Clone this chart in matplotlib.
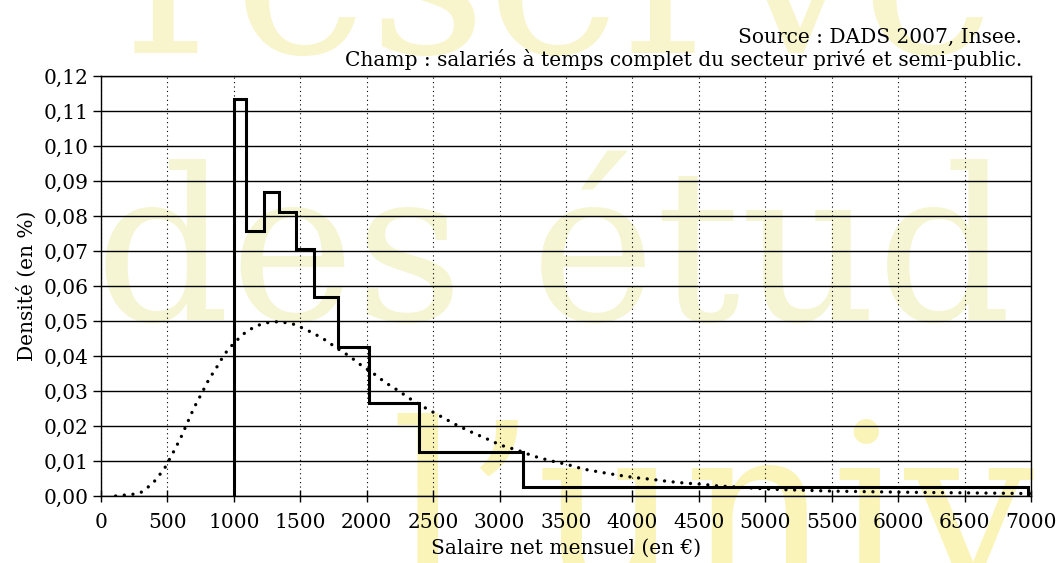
import matplotlib
matplotlib.use("Agg")
import matplotlib.pyplot as plt
from matplotlib.ticker import FuncFormatter, MultipleLocator

# histogram (deciles): bin edges in euros and densities (in %)
edges = [1000, 1090, 1225, 1340, 1465, 1605, 1785, 2015, 2395, 3175, 6980]
heights = [0.1133, 0.0756, 0.0868, 0.0811, 0.0706, 0.0569, 0.0427, 0.0265, 0.0127, 0.0027]

# fitted density (dotted curve)
curve_x = [110, 240, 300, 350, 400, 440, 480, 510, 540, 570, 600, 650, 700, 760, 820,
           860, 890, 960, 1010, 1050, 1100, 1160, 1220, 1280, 1340, 1410, 1470, 1530,
           1590, 1645, 1700, 1750, 1805, 1860, 1910, 1960, 2015, 2070, 2120, 2170, 2225,
           2280, 2330, 2440, 2550, 2665, 2780, 2900, 3010, 3135, 3255, 3380, 3510, 3630,
           3760, 3885, 4010, 4135, 4260, 4390, 4510, 4640, 4765, 4890, 5015, 5140, 5240,
           5500, 6000, 6500, 7000]
curve_y = [0.0, 0.0005, 0.001, 0.0024, 0.0041, 0.006, 0.008, 0.0101, 0.0122, 0.0144,
           0.0166, 0.0209, 0.0252, 0.0295, 0.0339, 0.036, 0.0381, 0.0421, 0.0439, 0.0456,
           0.0471, 0.0484, 0.0493, 0.0497, 0.0498, 0.0494, 0.0489, 0.0477, 0.0467, 0.0455,
           0.0443, 0.0429, 0.0415, 0.0402, 0.0388, 0.0373, 0.0359, 0.0345, 0.033, 0.0317,
           0.0304, 0.029, 0.0277, 0.0252, 0.0229, 0.0205, 0.0184, 0.0164, 0.0145, 0.0131,
           0.0114, 0.0101, 0.009, 0.0077, 0.0068, 0.006, 0.0053, 0.0048, 0.0042, 0.0037,
           0.0034, 0.0029, 0.0026, 0.0023, 0.002, 0.0018, 0.0017, 0.0014, 0.0011, 0.0009,
           0.0007]

plt.rcParams['font.family'] = "DejaVu Serif"
plt.rcParams['font.size'] = 14.5

fig = plt.figure(figsize=(10.61, 5.63), dpi=100)
ax = fig.add_axes([101/1061, 67/563, 930/1061, 420/563])
ax.set_facecolor('none')

# watermark behind everything
wm = dict(family="DejaVu Serif", zorder=-1, ha='left', va='baseline')
fig.text(125/1061, 1 - 53/563, "réservé", color='#f8f5cc', fontsize=165, **wm)
fig.text(95/1061, 1 - 320/563, "des étud", color='#f5f5d3', fontsize=152, **wm)
fig.text(390/1061, 1 - 587/563, "l’univ", color='#faf4b8', fontsize=165, **wm)

ax.stairs(heights, edges, baseline=0, color='black', lw=2.2, zorder=4)
ax.plot(curve_x, curve_y, color='black', lw=2.4, linestyle=(0, (0.01, 2.6)),
        dash_capstyle='round', zorder=3)

ax.set_xlim(0, 7000)
ax.set_ylim(0, 0.12)
ax.xaxis.set_major_locator(MultipleLocator(500))
ax.yaxis.set_major_locator(MultipleLocator(0.01))
ax.yaxis.set_major_formatter(FuncFormatter(lambda v, p: f"{v:.2f}".replace('.', ',')))
ax.grid(axis='y', color='black', lw=1.0, zorder=2)
ax.grid(axis='x', color='black', lw=0.8, linestyle=(0, (1, 3)), zorder=2)
ax.set_axisbelow(True)
ax.tick_params(axis='y', direction='out', length=6, width=1, pad=3)
ax.tick_params(axis='x', direction='inout', length=8, width=1, pad=8)
for s in ax.spines.values():
    s.set_linewidth(1.0)

ax.set_xlabel("Salaire net mensuel (en €)", labelpad=5)
ax.set_ylabel("Densité (en %)", labelpad=5)

fig.text(1022/1061, 1 - 37/563, "Source : DADS 2007, Insee.", ha='right', va='center')
fig.text(1022/1061, 1 - 60/563, "Champ : salariés à temps complet du secteur privé et semi-public.",
         ha='right', va='center')

fig.savefig("out.png", dpi=100)
